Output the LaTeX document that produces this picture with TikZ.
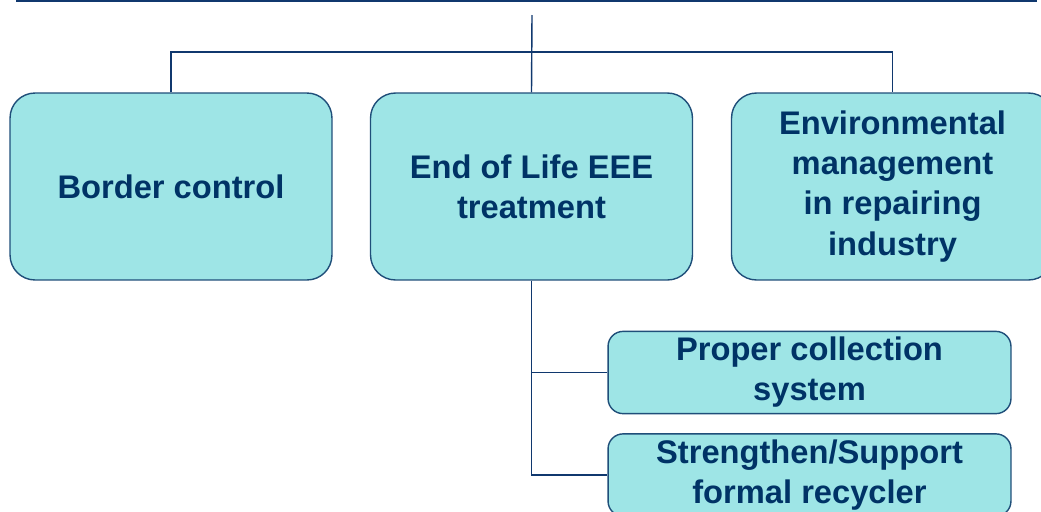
\documentclass[tikz,border=0pt]{standalone}
\usepackage{fontspec}
\setmainfont{Liberation Sans}
\usetikzlibrary{positioning}

\definecolor{boxfill}{RGB}{158,229,230}
\definecolor{boxline}{RGB}{31,78,121}
\definecolor{boxtext}{RGB}{0,51,102}
\definecolor{linkline}{RGB}{16,56,110}

\tikzset{
  mainbox/.style={draw=boxline, line width=0.8pt, fill=boxfill, rounded corners=0.5cm,
    minimum width=6.44cm, minimum height=3.74cm, align=center, text=boxtext,
    font=\fontsize{18.6}{22.8}\selectfont\bfseries},
  subbox/.style={mainbox, rounded corners=0.3cm, minimum width=8.06cm, minimum height=1.62cm},
  link/.style={draw=linkline, line width=0.8pt}
}

\begin{document}
\begin{tikzpicture}[x=0.02cm,y=-0.02cm]

\useasboundingbox (0,0) rectangle (1041,511);
\clip (0,0) rectangle (1041,511);

% cut-off box at the top
\node[draw=linkline, line width=1.2pt, minimum width=20.38cm, minimum height=2cm] (title) at (526.5,-49) {};

\node[mainbox] (border) at (171,186.5) {Border control};
\node[mainbox] (eol) at (531.5,186.5) {End of Life EEE\\treatment};
\node[mainbox] (env) at (892.5,186.5) {Environmental\\management\\in repairing\\industry};

\node[subbox] (collect) at (809.5,372.5) {Proper collection\\system};
\node[subbox] (recycler) at (809.5,475) {Strengthen/Support\\formal recycler};

\coordinate (trunk) at (532,15);
\coordinate (bar) at (532,52);

\draw[link] (trunk) -- (eol.north);
\draw[link] (border.north) |- (bar) -| (env.north);

\draw[link] (eol.south) |- (collect.west);
\draw[link] (eol.south) |- (recycler.west);

\end{tikzpicture}
\end{document}
